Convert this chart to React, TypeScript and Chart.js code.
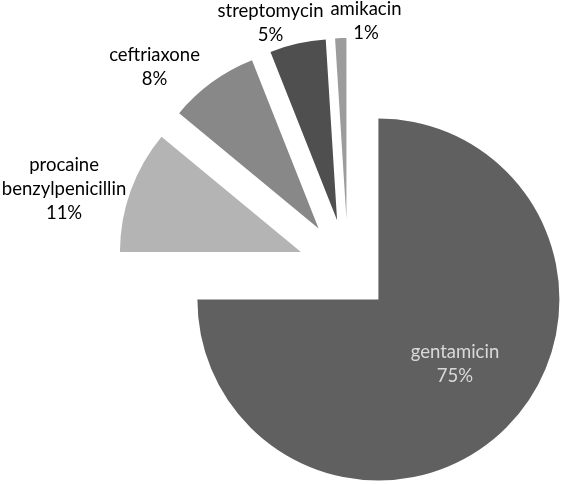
import React, { useEffect, useRef } from "react";
import { Chart, registerables } from "chart.js";

Chart.register(...registerables);

// ---- data ----
const categories = ["gentamicin", "procaine benzylpenicillin", "ceftriaxone", "streptomycin", "amikacin"];
const shares = [75, 11, 8, 5, 1];

// ---- styles ----
const sliceColors = ["#606060", "#b4b4b4", "#888888", "#4f4f4f", "#9c9c9c"];
const explode = [43, 50, 50, 50, 50];
// label anchor: arc centre + mid-angle direction * radius * f, then nudged by (dx, dy); baseline middle of the block
const labelLayout = [
  { f: 0.57, dx: 3.6, dy: -1.9, color: "#d9d9d9" },
  { f: 1, dx: -66.6, dy: 4.3, color: "#000000" },
  { f: 1, dx: -57.7, dy: -9.6, color: "#000000" },
  { f: 1, dx: -27.1, dy: -14.4, color: "#000000" },
  { f: 1, dx: 25.2, dy: -11.1, color: "#000000" },
];
const LABEL_FONT = '18.5px "Lato"';
const LINE_HEIGHT = 24;

const explodePlugin = {
  id: "explode",
  afterDatasetsUpdate(chart: any) {
    const meta = chart.getDatasetMeta(0);
    meta.data.forEach((arc: any, i: number) => {
      const mid = (arc.startAngle + arc.endAngle) / 2;
      const d = explode[i] || 0;
      arc.x += Math.cos(mid) * d;
      arc.y += Math.sin(mid) * d;
    });
  },
};

const labelPlugin = {
  id: "sliceLabels",
  afterDatasetsDraw(chart: any) {
    const ctx = chart.ctx;
    const meta = chart.getDatasetMeta(0);
    const labels = chart.data.labels as string[];
    const values = chart.data.datasets[0].data as number[];
    ctx.save();
    ctx.font = LABEL_FONT;
    ctx.textAlign = "center";
    ctx.textBaseline = "alphabetic";
    meta.data.forEach((arc: any, i: number) => {
      const lay = labelLayout[i];
      const mid = (arc.startAngle + arc.endAngle) / 2;
      const r = arc.outerRadius * lay.f;
      const cx = arc.x + Math.cos(mid) * r + lay.dx;
      const cy = arc.y + Math.sin(mid) * r + lay.dy;
      const lines = [...String(labels[i]).split(" "), `${values[i]}%`];
      ctx.fillStyle = lay.color;
      lines.forEach((line, k) => {
        const y = cy + (k - (lines.length - 1) / 2) * LINE_HEIGHT;
        ctx.fillText(line, cx, y);
      });
    });
    ctx.restore();
  },
};

export default function App() {
  const ref = useRef<HTMLCanvasElement | null>(null);
  useEffect(() => {
    if (!ref.current) return;
    const chart = new Chart(ref.current, {
      type: "pie",
      data: {
        labels: categories,
        datasets: [
          {
            data: shares,
            backgroundColor: sliceColors,
            borderWidth: 0,
          },
        ],
      },
      options: {
        responsive: false,
        animation: false,
        radius: 181,
        layout: { padding: { left: 135, top: 54, right: 0, bottom: 0 } },
        plugins: { legend: { display: false }, tooltip: { enabled: false } },
      },
      plugins: [explodePlugin, labelPlugin],
    });
    return () => chart.destroy();
  }, []);
  return (
    <div style={{ position: "fixed", left: 0, top: 0, width: 561, height: 484, background: "#fff" }}>
      <canvas ref={ref} width={561} height={484} style={{ display: "block" }} />
    </div>
  );
}
